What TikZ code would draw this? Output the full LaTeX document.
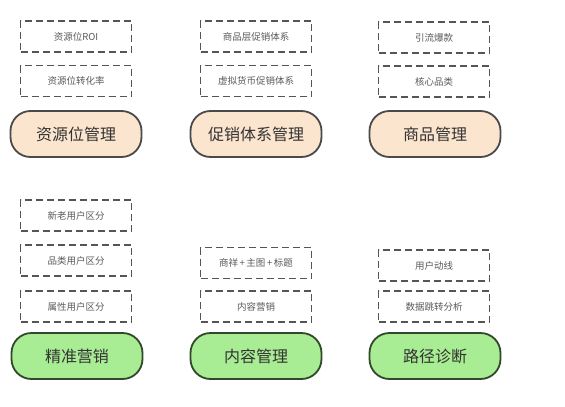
\documentclass[tikz,border=0pt]{standalone}
\usepackage{fontspec}
\setmainfont{Noto Sans CJK SC}
\definecolor{peach}{HTML}{FBE5CF}
\definecolor{leaf}{HTML}{A8EC93}
\definecolor{edgegray}{HTML}{4A4A4A}
\definecolor{dashgray}{HTML}{555555}
\tikzset{
  subbox/.style={draw=dashgray,line width=1.8pt,dash pattern=on 7pt off 4pt,
    minimum width=111pt,minimum height=31pt,inner sep=0pt,
    font=\fontsize{9.5}{10}\selectfont,text=black!65},
  pill/.style={draw=edgegray,line width=1.8pt,rounded corners=20pt,
    minimum width=131pt,minimum height=46pt,inner sep=0pt,
    font=\fontsize{16}{18}\selectfont,text=black!80},
  toppill/.style={pill,fill=peach},
  botpill/.style={pill,fill=leaf,draw=black!70!leaf}
}
\begin{document}
\begin{tikzpicture}[x=1pt,y=-1pt]
  \useasboundingbox (0,0) rectangle (565,407);
  % upper row
  \node[subbox] (roi) at (76,36.5) {资源位ROI};
  \node[subbox] (rate) at (76,81) {资源位转化率};
  \node[toppill] (res) at (76,134) {资源位管理};
  \node[subbox] (goodspromo) at (256,36.5) {商品层促销体系};
  \node[subbox] (coinpromo) at (256,81) {虚拟货币促销体系};
  \node[toppill] (promo) at (256,134) {促销体系管理};
  \node[subbox] (hot) at (434,37.5) {引流爆款};
  \node[subbox] (core) at (434,81.5) {核心品类};
  \node[toppill] (goods) at (435,134) {商品管理};
  % lower row
  \node[subbox] (newold) at (76,215.5) {新老用户区分};
  \node[subbox] (catuser) at (76,260.5) {品类用户区分};
  \node[subbox] (attruser) at (76,306.5) {属性用户区分};
  \node[botpill] (market) at (77,356) {精准营销};
  \node[subbox] (detail) at (256,263) {商祥\,+\,主图\,+\,标题};
  \node[subbox] (content) at (256,306.5) {内容营销};
  \node[botpill] (cont) at (256,356) {内容管理};
  \node[subbox] (flow) at (434,265.5) {用户动线};
  \node[subbox] (jump) at (434,306.5) {数据跳转分析};
  \node[botpill] (path) at (435,356) {路径诊断};
\end{tikzpicture}
\end{document}
